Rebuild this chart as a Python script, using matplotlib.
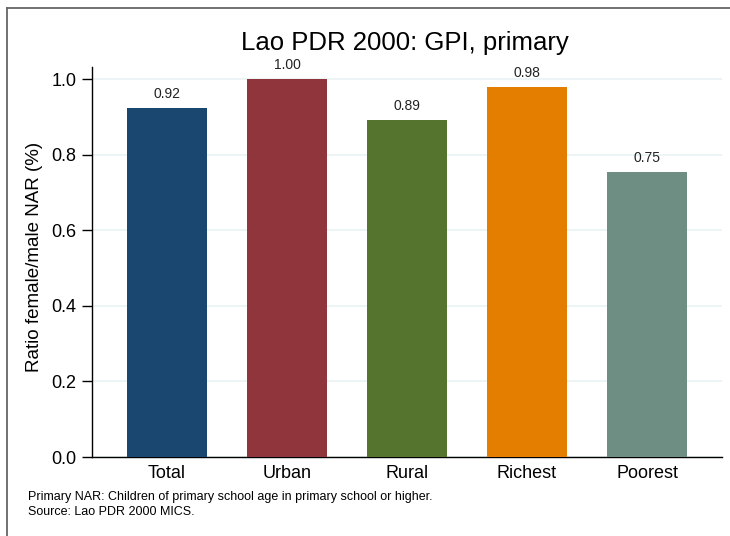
import matplotlib
matplotlib.use("Agg")
import matplotlib.pyplot as plt
from matplotlib.lines import Line2D

plt.rcParams['font.family'] = ['Liberation Sans', 'DejaVu Sans']

categories = ['Total', 'Urban', 'Rural', 'Richest', 'Poorest']
ratios = [0.924, 1.00, 0.893, 0.980, 0.754]
colors = ['#1a476f', '#90353b', '#55752f', '#e37e00', '#6e8e84']
yticks = [0.0, 0.2, 0.4, 0.6, 0.8, 1.0]

W, H = 730, 536
fig = plt.figure(figsize=(W / 100, H / 100), dpi=100)
# axes box in pixels
left, right, top, bottom = 92, 722, 67, 457
ax = fig.add_axes([left / W, 1 - bottom / H, (right - left) / W, (bottom - top) / H])

x = range(len(categories))
ax.bar(x, ratios, width=0.667, color=colors, edgecolor='none', zorder=3)
for xi, v in zip(x, ratios):
    ax.text(xi, v + 0.018, f"{v:.2f}", ha='center', va='bottom', fontsize=10, color='#222222')

ax.set_xlim(-0.625, 4.625)
ax.set_ylim(0, 1.032)
ax.set_yticks(yticks)
ax.set_yticklabels([f"{t:.1f}" for t in yticks], fontsize=13)
ax.set_xticks(list(x))
ax.set_xticklabels(categories, fontsize=13)
ax.tick_params(axis='x', length=0, pad=6)
ax.tick_params(axis='y', length=7, width=1, pad=4)
ax.grid(axis='y', color='#eaf2f3', linewidth=1.2, zorder=0)
ax.set_axisbelow(True)
for s in ['top', 'right']:
    ax.spines[s].set_visible(False)
ax.spines['left'].set_linewidth(1)
ax.spines['bottom'].set_linewidth(1)

fig.text(35 / W, 1 - 257 / H, 'Ratio female/male NAR (%)', rotation=90,
         ha='center', va='center', fontsize=13.5)
fig.text(405 / W, 1 - 43 / H, 'Lao PDR 2000: GPI, primary', ha='center', va='center', fontsize=18.5)
fig.text(28 / W, 1 - 497 / H, 'Primary NAR: Children of primary school age in primary school or higher.',
         ha='left', va='center', fontsize=9)
fig.text(28 / W, 1 - 512 / H, 'Source: Lao PDR 2000 MICS.', ha='left', va='center', fontsize=9)

# outer frame of the original graph (only top and left visible in the crop)
fig.add_artist(Line2D([7 / W, 1], [1 - 8 / H, 1 - 8 / H], color='#666666', linewidth=1.3))
fig.add_artist(Line2D([7 / W, 7 / W], [0, 1 - 8 / H], color='#666666', linewidth=1.3))

fig.savefig('out.png', dpi=100)
